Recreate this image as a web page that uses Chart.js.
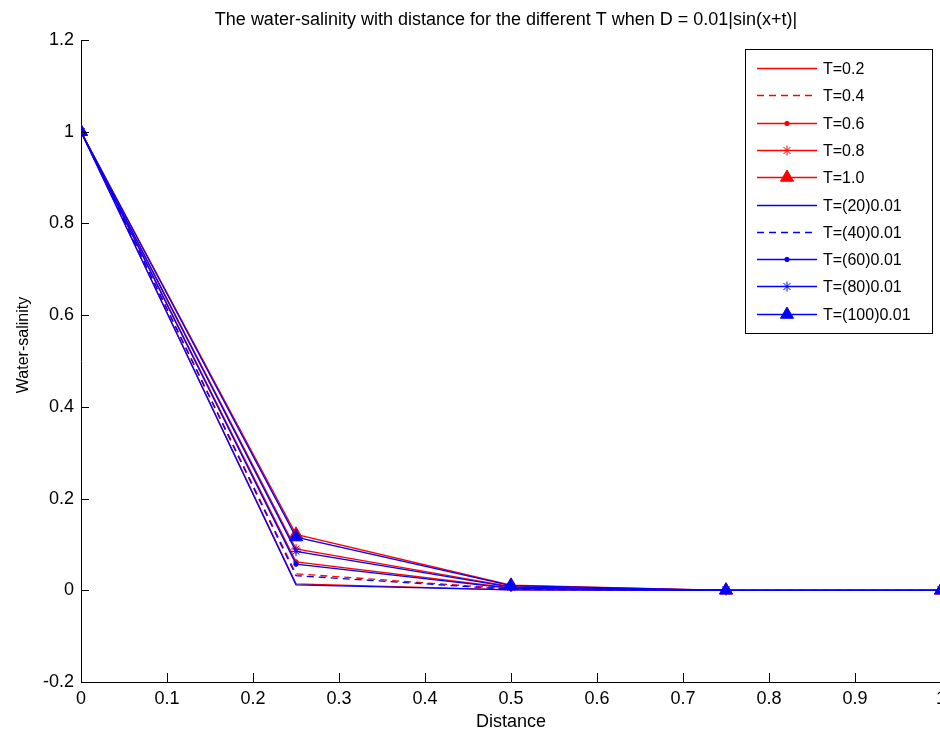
<!DOCTYPE html>
<html>
<head>
    <title>Water-salinity with distance</title>
    <script src="https://cdn.jsdelivr.net/npm/chart.js"></script>
    <style>
        body {
            margin: 0;
            background-color: #ffffff;
            overflow: hidden;
        }
        .chart-box {
            width: 960px;
            height: 734px;
        }
    </style>
</head>

<body>
    <div class="chart-box">
        <canvas id="salinityChart"></canvas>
    </div>

    <script>
    // values
    const distance = [0, 0.25, 0.5, 0.75, 1];
    const xTicks = [0, 0.1, 0.2, 0.3, 0.4, 0.5, 0.6, 0.7, 0.8, 0.9, 1];
    const yTicks = [-0.2, 0, 0.2, 0.4, 0.6, 0.8, 1, 1.2];

    const labels = ['T=0.2', 'T=0.4', 'T=0.6', 'T=0.8', 'T=1.0',
                    'T=(20)0.01', 'T=(40)0.01', 'T=(60)0.01', 'T=(80)0.01', 'T=(100)0.01'];

    const t02 = [1, 0.014, 0.001, 0, 0];
    const t04 = [1, 0.036, 0.003, 0, 0];
    const t06 = [1, 0.062, 0.005, 0, 0];
    const t08 = [1, 0.090, 0.008, 0, 0];
    const t10 = [1, 0.122, 0.011, 0, 0];
    const t20 = [1, 0.012, 0.001, 0, 0];
    const t40 = [1, 0.032, 0.002, 0, 0];
    const t60 = [1, 0.057, 0.004, 0, 0];
    const t80 = [1, 0.085, 0.007, 0, 0];
    const t100 = [1, 0.116, 0.010, 0, 0];

    const seriesValues = [t02, t04, t06, t08, t10, t20, t40, t60, t80, t100];

    // MATLAB-ish line styles: solid, dashed, dot marker, star marker, triangle marker
    const styles = [
        { dash: [], point: 'circle', radius: 0 },
        { dash: [7, 5], point: 'circle', radius: 0 },
        { dash: [], point: 'circle', radius: 2.2 },
        { dash: [], point: 'star', radius: 5 },
        { dash: [], point: 'triangle', radius: 7.5 }
    ];

    const lineW = 1.3;

    const datasets = seriesValues.map(function (vals, i) {
        const st = styles[i % 5];
        const color = i < 5 ? '#ff0000' : '#0000ff';
        return {
            label: labels[i],
            data: vals.map(function (v, j) { return { x: distance[j], y: v }; }),
            borderColor: color,
            backgroundColor: color,
            borderWidth: lineW,
            borderDash: st.dash,
            pointStyle: st.point,
            pointRadius: st.radius,
            pointBorderWidth: 1,
            pointBorderColor: color,
            pointBackgroundColor: color,
            tension: 0,
            order: i < 5 ? 2 : 1
        };
    });

    const fontName = '"Liberation Sans", Arial, sans-serif';

    function fmt(v) {
        return String(Number(v.toFixed(1)));
    }

    // title and y label drawn where matlab puts them
    const textPlugin = {
        id: 'plotTexts',
        afterDraw(chart) {
            const ctx = chart.ctx;
            ctx.save();
            ctx.fillStyle = '#000';
            ctx.font = '18px ' + fontName;
            ctx.textAlign = 'center';
            ctx.textBaseline = 'alphabetic';
            ctx.fillText('The water-salinity with distance for the different T when D = 0.01|sin(x+t)|', 506, 25);

            ctx.translate(28, 345);
            ctx.rotate(-Math.PI / 2);
            ctx.font = '16px ' + fontName;
            ctx.fillText('Water-salinity', 0, 0);
            ctx.restore();
        }
    };

    // inward tick marks
    const tickPlugin = {
        id: 'inTicks',
        afterDraw(chart) {
            const ctx = chart.ctx;
            const xs = chart.scales.x;
            const ys = chart.scales.y;
            const area = chart.chartArea;
            ctx.save();
            ctx.strokeStyle = '#000';
            ctx.lineWidth = 1;
            ctx.beginPath();
            xTicks.forEach(function (v) {
                const px = Math.round(xs.getPixelForValue(v)) + 0.5;
                ctx.moveTo(px, area.bottom);
                ctx.lineTo(px, area.bottom - 9);
            });
            yTicks.forEach(function (v) {
                const py = Math.round(ys.getPixelForValue(v)) + 0.5;
                ctx.moveTo(area.left, py);
                ctx.lineTo(area.left + 8, py);
            });
            ctx.stroke();
            ctx.restore();
        }
    };

    // legend box in the upper right corner
    const legendPlugin = {
        id: 'boxLegend',
        afterDraw(chart) {
            const ctx = chart.ctx;
            const left = 745, top = 49, right = 932, bottom = 333;
            ctx.save();
            ctx.fillStyle = '#fff';
            ctx.fillRect(left, top, right - left, bottom - top);
            ctx.strokeStyle = '#000';
            ctx.lineWidth = 1;
            ctx.strokeRect(left + 0.5, top + 0.5, right - left, bottom - top);

            chart.data.datasets.forEach(function (ds, i) {
                const y = Math.round(68 + i * 27.3) + 0.5;
                ctx.save();
                ctx.strokeStyle = ds.borderColor;
                ctx.lineWidth = lineW;
                ctx.setLineDash(ds.borderDash);
                ctx.beginPath();
                ctx.moveTo(757, y);
                ctx.lineTo(817, y);
                ctx.stroke();
                ctx.restore();
                if (ds.pointRadius > 0) {
                    ctx.save();
                    ctx.strokeStyle = ds.borderColor;
                    ctx.fillStyle = ds.borderColor;
                    ctx.lineWidth = 1;
                    Chart.helpers.drawPoint(ctx, {
                        pointStyle: ds.pointStyle,
                        radius: ds.pointRadius,
                        borderWidth: 1,
                        rotation: 0
                    }, 787, y);
                    ctx.restore();
                }
                ctx.fillStyle = '#000';
                ctx.font = '16px ' + fontName;
                ctx.textAlign = 'left';
                ctx.textBaseline = 'middle';
                ctx.fillText(ds.label, 823, y + 1);
            });
            ctx.restore();
        }
    };

    const salinityChart = new Chart(document.getElementById('salinityChart'), {
        type: 'line',
        data: { datasets: datasets },
        plugins: [textPlugin, tickPlugin, legendPlugin],
        options: {
            responsive: true,
            maintainAspectRatio: false,
            animation: false,
            layout: { padding: { top: 40, right: 19, left: 0, bottom: 0 } },
            plugins: {
                legend: { display: false },
                tooltip: { enabled: false }
            },
            scales: {
                x: {
                    type: 'linear',
                    min: 0,
                    max: 1,
                    afterFit(scale) { scale.height = 52; },
                    afterBuildTicks(scale) {
                        scale.ticks = xTicks.map(function (v) { return { value: v }; });
                    },
                    grid: { display: false, drawTicks: false },
                    border: { display: true, color: '#000', width: 1 },
                    ticks: {
                        padding: 6,
                        color: '#000',
                        font: { family: fontName, size: 18 },
                        maxRotation: 0,
                        callback: fmt
                    },
                    title: {
                        display: true,
                        text: 'Distance',
                        color: '#000',
                        font: { family: fontName, size: 18 },
                        padding: { top: 0, bottom: 1 }
                    }
                },
                y: {
                    type: 'linear',
                    min: -0.2,
                    max: 1.2,
                    afterFit(scale) { scale.width = 81; },
                    afterBuildTicks(scale) {
                        scale.ticks = yTicks.map(function (v) { return { value: v }; });
                    },
                    grid: { display: false, drawTicks: false },
                    border: { display: true, color: '#000', width: 1 },
                    ticks: {
                        padding: 7,
                        color: '#000',
                        font: { family: fontName, size: 18 },
                        callback: fmt
                    }
                }
            }
        }
    });
    </script>
</body>
</html>
